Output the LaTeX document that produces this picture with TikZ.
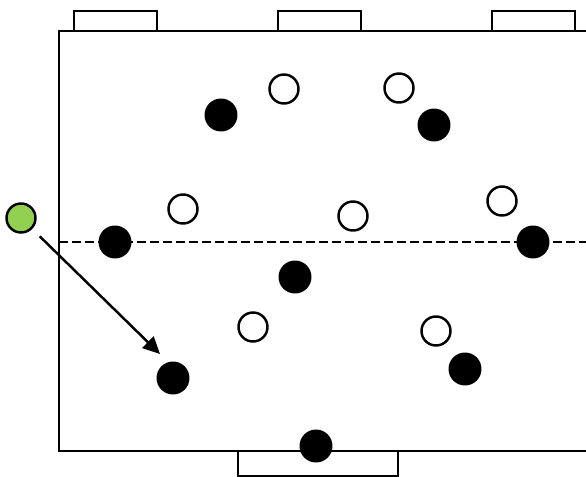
\documentclass[tikz,border=0pt]{standalone}
\usepackage{tikz}
\usetikzlibrary{arrows.meta,positioning,calc}
\definecolor{ballgreen}{HTML}{92D050}

\begin{document}
\begin{tikzpicture}[x=0.02cm,y=-0.02cm,
      line/.style={draw=black,line width=1.3pt},
      goal/.style={draw=black,line width=1.3pt,fill=white},
      mate/.style={circle,fill=black,minimum size=0.66cm,inner sep=0pt},
      opp/.style={circle,draw=black,line width=1.4pt,fill=white,minimum size=0.58cm,inner sep=0pt},
      ball/.style={circle,draw=black,line width=1.4pt,fill=ballgreen,minimum size=0.58cm,inner sep=0pt},
      arr/.style={-{Triangle[length=3.4mm,width=3.2mm]},line width=1.4pt,draw=black}]
    \useasboundingbox (0,0) rectangle (586,477);
    % pitch
    \draw[line] (586,31) -- (59,31) -- (59,451) -- (586,451);
    \draw[goal] (74,11) rectangle (157,31);
    \draw[goal] (278,11) rectangle (361,31);
    \draw[goal] (492,11) rectangle (575,31);
    \draw[goal] (238,451) rectangle (398,476);
    \draw[line width=1.3pt,dash pattern=on 5pt off 2.4pt] (59,242) -- (586,242);
    % players
    \node[mate] (m1) at (221,115) {};
    \node[mate] (m2) at (434,125) {};
    \node[mate] (m3) at (115,242) {};
    \node[mate] (m4) at (533,242) {};
    \node[mate] (m5) at (295,277) {};
    \node[mate] (m6) at (173,378) {};
    \node[mate] (m7) at (465,369) {};
    \node[mate] (m8) at (316,446) {};
    \node[opp] (o1) at (284,89) {};
    \node[opp] (o2) at (399,88) {};
    \node[opp] (o3) at (183,209) {};
    \node[opp] (o4) at (353,216) {};
    \node[opp] (o5) at (502,201) {};
    \node[opp] (o6) at (253,327) {};
    \node[opp] (o7) at (436,331) {};
    \node[ball] (ball) at (21,218) {};
    \coordinate (pass) at (160,354);
    \draw[arr,shorten <=6pt] (ball) -- (pass);
  \end{tikzpicture}
\end{document}
